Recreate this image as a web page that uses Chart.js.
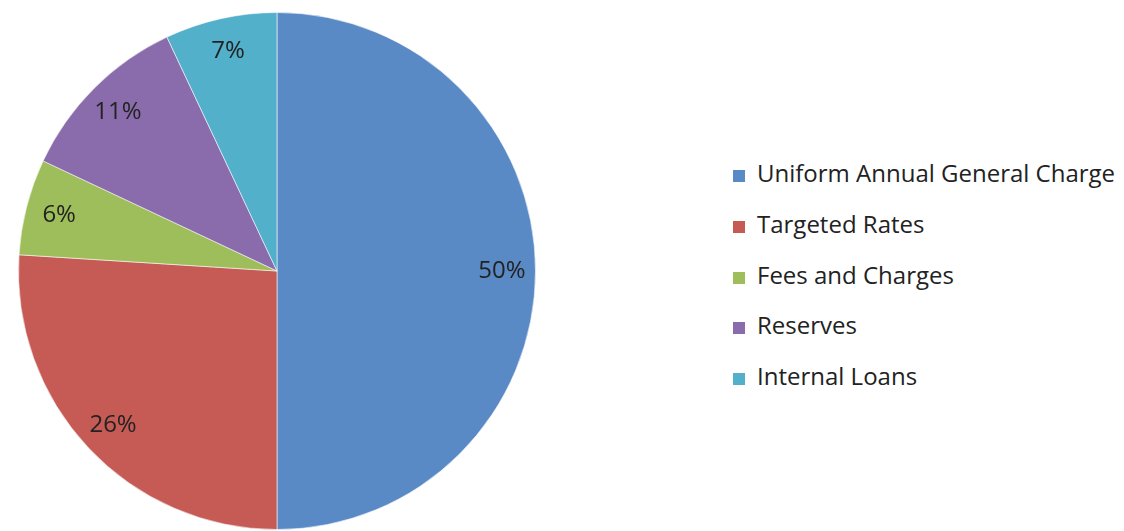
<!DOCTYPE html>
<html>
<head>
<meta charset="utf-8">
<script src="https://cdn.jsdelivr.net/npm/chart.js@4/dist/chart.umd.min.js"></script>
<style>
  body { margin: 0; background: #fff; }
  #wrap { position: relative; width: 1124px; height: 531px; overflow: hidden; }
  #pieBox { position: absolute; left: 0; top: 0; width: 554px; height: 531px; }
  #legend { position: absolute; left: 733px; top: 148px; margin: 0; padding: 0; list-style: none;
            font-family: "Open Sans", sans-serif; font-size: 24px; color: #222; }
  #legend li { height: 50.75px; line-height: 50.75px; white-space: nowrap; }
  #legend span.box { display: inline-block; width: 12px; height: 12px; margin-right: 12px; vertical-align: 0px; }
</style>
</head>
<body>
<div id="wrap">
  <div id="pieBox"><canvas id="pie"></canvas></div>
  <ul id="legend"></ul>
</div>
<script>
const categories = ['Uniform Annual General Charge', 'Targeted Rates', 'Fees and Charges', 'Reserves', 'Internal Loans'];
const shares = [50, 26, 6, 11, 7];
const sliceColors = ['#5A8AC6', '#C65B55', '#9EBE5B', '#8A6BAC', '#52B0CB'];

// percent text inside each slice, along the slice's middle angle
const sliceLabels = {
  id: 'sliceLabels',
  afterDatasetsDraw(chart) {
    const ctx = chart.ctx;
    const meta = chart.getDatasetMeta(0);
    ctx.save();
    ctx.font = '24px "Open Sans", sans-serif';
    ctx.fillStyle = '#222';
    ctx.textAlign = 'center';
    ctx.textBaseline = 'middle';
    meta.data.forEach((arc, i) => {
      const mid = (arc.startAngle + arc.endAngle) / 2;
      const r = arc.outerRadius * 0.87;
      ctx.fillText(shares[i] + '%', arc.x + Math.cos(mid) * r, arc.y + Math.sin(mid) * r);
    });
    ctx.restore();
  }
};

const chart = new Chart(document.getElementById('pie'), {
  type: 'pie',
  data: {
    labels: categories,
    datasets: [{
      data: shares,
      backgroundColor: sliceColors,
      borderColor: 'rgba(255,255,255,0.55)',
      borderWidth: 1
    }]
  },
  options: {
    responsive: true,
    maintainAspectRatio: false,
    animation: false,
    layout: { padding: { left: 18, right: 18, top: 12, bottom: 1 } },
    plugins: {
      legend: { display: false },
      tooltip: { enabled: false }
    }
  },
  plugins: [sliceLabels]
});

// legend list built from the chart's own legend items
const list = document.getElementById('legend');
chart.options.plugins.legend.labels.generateLabels(chart).forEach(item => {
  const li = document.createElement('li');
  const box = document.createElement('span');
  box.className = 'box';
  box.style.background = item.fillStyle;
  li.appendChild(box);
  li.appendChild(document.createTextNode(item.text));
  list.appendChild(li);
});
</script>
</body>
</html>
